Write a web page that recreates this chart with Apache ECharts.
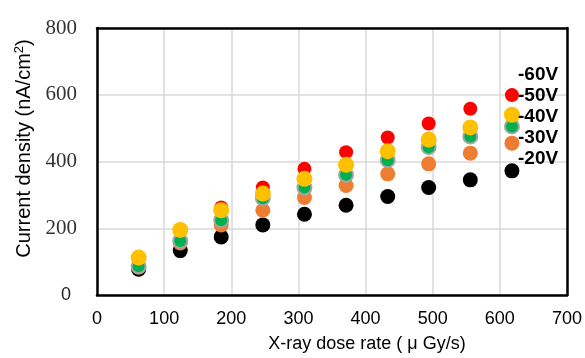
<!DOCTYPE html>
<html>
<head>
<meta charset="utf-8">
<script src="https://cdn.jsdelivr.net/npm/echarts@6/dist/echarts.min.js"></script>
<style>
    html, body { margin: 0; padding: 0; background: #fff; }
    #chart { width: 585px; height: 358px; }
</style>
</head>
<body>
<div id="chart"></div>
<script>
// dose rate (μGy/s)
const doseRate = [62, 124, 185, 247, 309, 371, 433, 494, 556, 618]
// current density (nA/cm2) per bias
const v20 = [77, 133, 174, 210, 242, 269, 295, 322, 345, 372]
const v30 = [83, 156, 210, 254, 292, 328, 363, 393, 425, 455]
const v40 = [86, 162, 224, 290, 322, 360, 404, 443, 475, 505]
const v50 = [112, 195, 254, 304, 348, 390, 431, 466, 502, 540]
const v60 = [113, 196, 262, 322, 378, 428, 472, 514, 558, 599]
const legendNames = ['-60V', '-50V', '-40V', '-30V', '-20V']

function pairs(ys) {
    return doseRate.map(function(x, i) {
        return [x, ys[i]]
    })
}

function makeSeries(name, ys, color, extra) {
    return Object.assign({
        name: name,
        type: 'scatter',
        symbol: 'circle',
        symbolSize: 15,
        data: pairs(ys),
        itemStyle: { color: color, opacity: 1 }
    }, extra || {})
}

const boxLine = { show: true, onZero: false, lineStyle: { color: '#000', width: 2.5 } }

const chart = echarts.init(document.getElementById('chart'))
chart.setOption({
    animation: false,
    grid: { left: 97, right: 18, top: 28, bottom: 59 },
    legend: {
        data: legendNames,
        orient: 'vertical',
        left: 508,
        top: 59,
        itemWidth: 0,
        itemHeight: 21,
        itemGap: 0,
        icon: 'none',
        selectedMode: false,
        textStyle: {
            fontFamily: 'Liberation Sans',
            fontSize: 19,
            fontWeight: 'bold',
            lineHeight: 21,
            color: '#000'
        }
    },
    xAxis: [{
        type: 'value',
        min: 0, max: 700, interval: 100,
        name: 'X-ray dose rate ( μ Gy/s)',
        nameLocation: 'middle',
        nameGap: 40,
        nameTextStyle: {
            fontFamily: 'Liberation Sans',
            fontSize: 18,
            color: '#000',
            padding: [0, 0, 0, 70]
        },
        axisLine: boxLine,
        axisTick: { show: false },
        axisLabel: {
            margin: 15,
            fontFamily: 'Liberation Sans',
            fontSize: 18,
            color: '#000'
        },
        splitLine: { lineStyle: { color: '#d9d9d9', width: 1.5 } },
        z: 1
    }, {
        type: 'value',
        position: 'top',
        min: 0, max: 700, interval: 100,
        axisLine: boxLine,
        axisTick: { show: false },
        axisLabel: { show: false },
        splitLine: { show: false },
        z: 1
    }],
    yAxis: [{
        type: 'value',
        min: 0, max: 800, interval: 200,
        name: 'Current density (nA/cm{sup|2})',
        nameLocation: 'middle',
        nameGap: 50,
        nameTextStyle: {
            fontFamily: 'Liberation Sans',
            fontSize: 20,
            color: '#000',
            padding: [0, 0, 0, 26],
            rich: {
                sup: { fontSize: 13, fontFamily: 'Liberation Sans', padding: [0, 0, 11, 0] }
            }
        },
        axisLine: boxLine,
        axisTick: { show: false },
        axisLabel: {
            margin: 20,
            color: '#222',
            formatter: function(v) {
                return v === 0 ? '{s|0}' : '{r|' + v + '}'
            },
            rich: {
                s: { fontFamily: 'Liberation Sans', fontSize: 18, color: '#222', padding: [0, 6, 0, 0] },
                r: { fontFamily: 'Liberation Serif', fontSize: 21, color: '#333' }
            }
        },
        splitLine: { lineStyle: { color: '#d9d9d9', width: 1.5 } },
        z: 1
    }, {
        type: 'value',
        position: 'right',
        min: 0, max: 800, interval: 200,
        axisLine: boxLine,
        axisTick: { show: false },
        axisLabel: { show: false },
        splitLine: { show: false },
        z: 1
    }],
    series: [
        makeSeries('-20V', v20, '#000000'),
        makeSeries('-30V', v30, '#ED7D31'),
        makeSeries('-40V', v40, '#00B050', {
            symbolSize: 14,
            itemStyle: { color: '#00B050', borderColor: '#a5a5a5', borderWidth: 2, opacity: 1 }
        }),
        makeSeries('-60V', v60, '#FF0000', { symbolSize: 14 }),
        makeSeries('-50V', v50, '#FFC000', { symbolSize: 16 })
    ]
})
</script>
</body>
</html>
